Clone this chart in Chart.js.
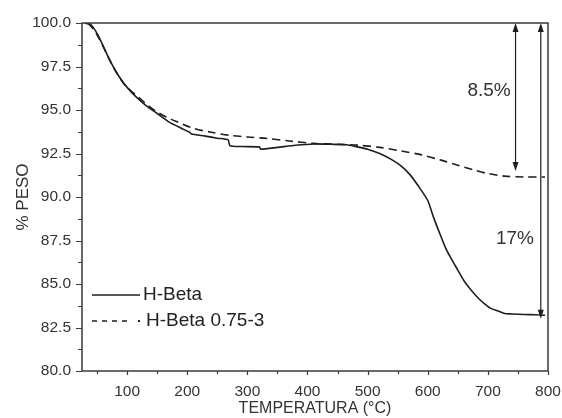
<!DOCTYPE html>
<html>
<head>
<meta charset="utf-8">
<script src="https://cdn.jsdelivr.net/npm/chart.js@4.4.1/dist/chart.umd.min.js"></script>
<style>
html, body { margin: 0; padding: 0; background: #fff; }
#wrap { width: 562px; height: 418px; position: relative; }
</style>
</head>
<body>
<div id="wrap"><canvas id="tga"></canvas></div>
<script>
// H-Beta
var tempBeta = [30, 40, 50, 60, 70, 80, 90, 100, 115, 130, 150, 170, 190, 204, 207, 230, 250, 268, 271, 290, 320, 322, 350, 380, 410, 440, 465, 480, 500, 520, 540, 555, 570, 585, 600, 610, 620, 630, 640, 650, 660, 672, 685, 695, 705, 717, 728, 740, 760, 780, 795];
var pesoBeta = [100.0, 99.9, 99.4, 98.7, 97.95, 97.3, 96.75, 96.3, 95.75, 95.3, 94.8, 94.3, 93.95, 93.72, 93.62, 93.5, 93.38, 93.28, 92.95, 92.9, 92.88, 92.75, 92.85, 92.97, 93.05, 93.03, 93.0, 92.9, 92.75, 92.5, 92.15, 91.8, 91.3, 90.6, 89.8, 88.8, 87.9, 87.05, 86.4, 85.8, 85.2, 84.65, 84.15, 83.85, 83.6, 83.45, 83.3, 83.28, 83.25, 83.23, 83.2];

// H-Beta 0.75-3
var tempBeta075 = [35, 45, 55, 65, 75, 85, 95, 105, 115, 130, 145, 165, 185, 210, 240, 270, 300, 333, 370, 410, 450, 483, 520, 555, 590, 622, 650, 678, 700, 728, 760, 795];
var pesoBeta075 = [100.0, 99.6, 99.0, 98.3, 97.6, 97.0, 96.5, 96.15, 95.85, 95.4, 95.0, 94.6, 94.3, 93.95, 93.72, 93.55, 93.45, 93.36, 93.22, 93.08, 93.03, 92.98, 92.85, 92.65, 92.42, 92.12, 91.82, 91.54, 91.35, 91.2, 91.15, 91.15];

var xTicks = [100, 200, 300, 400, 500, 600, 700, 800];
var yTicks = [80, 82.5, 85, 87.5, 90, 92.5, 95, 97.5, 100];

// weight loss brackets
var lossTemps = [746, 788];
var lossValues = [8.5, 17];
var lossLabels = ['8.5%', '17%'];
var lossLabelTemps = [702, 745];
var lossLabelPesos = [96.1, 87.6];

function toPoints(xs, ys) {
  return xs.map(function (x, i) { return { x: x, y: ys[i] }; });
}

var INK = '#1e1e1e';
var AXIS = '#3a3a3a';
var FONT = '"Liberation Sans", Arial, sans-serif';

var decor = {
  id: 'decor',
  afterDraw: function (chart) {
    var ctx = chart.ctx;
    var a = chart.chartArea;
    var sx = chart.scales.x, sy = chart.scales.y;
    ctx.save();

    // frame
    ctx.strokeStyle = AXIS;
    ctx.lineWidth = 1.5;
    ctx.strokeRect(a.left, a.top, a.right - a.left, a.bottom - a.top);

    // tick marks, pointing outwards
    ctx.lineWidth = 1.2;
    ctx.beginPath();
    xTicks.forEach(function (v) {
      var px = Math.round(sx.getPixelForValue(v)) + 0.5;
      ctx.moveTo(px, a.bottom); ctx.lineTo(px, a.bottom + 4);
      var mx = Math.round(sx.getPixelForValue(v - 50)) + 0.5;
      ctx.moveTo(mx, a.bottom); ctx.lineTo(mx, a.bottom + 3);
    });
    yTicks.forEach(function (v, i) {
      var py = Math.round(sy.getPixelForValue(v)) + 0.5;
      ctx.moveTo(a.left, py); ctx.lineTo(a.left - 6, py);
      if (i < yTicks.length - 1) {
        var my = Math.round(sy.getPixelForValue(v + 1.25)) + 0.5;
        ctx.moveTo(a.left, my); ctx.lineTo(a.left - 4, my);
      }
    });
    ctx.stroke();

    // double arrows for the losses
    ctx.strokeStyle = INK;
    ctx.fillStyle = INK;
    ctx.lineWidth = 1.2;
    lossTemps.forEach(function (t, i) {
      var x = sx.getPixelForValue(t);
      var y0 = sy.getPixelForValue(100);
      var y1 = sy.getPixelForValue(100 - lossValues[i]);
      ctx.beginPath();
      ctx.moveTo(x, y0 + 4); ctx.lineTo(x, y1 - 4);
      ctx.stroke();
      ctx.beginPath();
      ctx.moveTo(x, y0); ctx.lineTo(x - 3, y0 + 9); ctx.lineTo(x + 3, y0 + 9); ctx.closePath();
      ctx.moveTo(x, y1); ctx.lineTo(x - 3, y1 - 9); ctx.lineTo(x + 3, y1 - 9); ctx.closePath();
      ctx.fill();
    });

    ctx.font = '19px ' + FONT;
    ctx.fillStyle = '#333';
    ctx.textAlign = 'center';
    ctx.textBaseline = 'middle';
    lossLabels.forEach(function (txt, i) {
      ctx.fillText(txt, sx.getPixelForValue(lossLabelTemps[i]), sy.getPixelForValue(lossLabelPesos[i]));
    });

    // legend
    var ds = chart.data.datasets;
    ctx.strokeStyle = INK;
    ctx.lineWidth = 1.6;
    ctx.beginPath();
    ctx.moveTo(92, 295); ctx.lineTo(140, 295);
    ctx.stroke();
    ctx.setLineDash([5, 5]);
    ctx.beginPath();
    ctx.moveTo(92, 321); ctx.lineTo(130, 321);
    ctx.stroke();
    ctx.setLineDash([]);
    ctx.fillStyle = INK;
    ctx.fillRect(138, 320, 2, 2);
    ctx.font = '19px ' + FONT;
    ctx.fillStyle = '#222';
    ctx.textAlign = 'left';
    ctx.fillText(ds[0].label, 143, 295);
    ctx.fillText(ds[1].label, 146, 321);

    ctx.restore();
  }
};

new Chart(document.getElementById('tga'), {
  type: 'line',
  data: {
    datasets: [
      {
        label: 'H-Beta',
        data: toPoints(tempBeta, pesoBeta),
        borderColor: INK,
        borderWidth: 1.6,
        pointRadius: 0,
        tension: 0.2,
        fill: false
      },
      {
        label: 'H-Beta 0.75-3',
        data: toPoints(tempBeta075, pesoBeta075),
        borderColor: INK,
        borderWidth: 1.6,
        borderDash: [8, 5],
        pointRadius: 0,
        tension: 0.3,
        fill: false
      }
    ]
  },
  options: {
    responsive: true,
    maintainAspectRatio: false,
    animation: false,
    layout: { padding: { top: 23, right: 14, left: 0, bottom: 0 } },
    plugins: { legend: { display: false }, tooltip: { enabled: false } },
    scales: {
      x: {
        type: 'linear',
        min: 25,
        max: 800,
        afterBuildTicks: function (s) { s.ticks = xTicks.map(function (v) { return { value: v }; }); },
        afterFit: function (s) { s.height = 47; s.paddingLeft = 0; s.paddingRight = 0; },
        grid: { display: false, drawTicks: false },
        border: { display: false },
        ticks: {
          autoSkip: false, maxRotation: 0, padding: 11,
          color: '#333',
          font: { family: FONT, size: 15.5 }
        },
        title: {
          display: true, text: 'TEMPERATURA (°C)', color: '#333',
          padding: { top: 0, bottom: 0 },
          font: { family: FONT, size: 16 }
        }
      },
      y: {
        min: 80,
        max: 100,
        afterBuildTicks: function (s) { s.ticks = yTicks.map(function (v) { return { value: v }; }); },
        afterFit: function (s) { s.width = 82; s.paddingTop = 0; s.paddingBottom = 0; },
        grid: { display: false, drawTicks: false },
        border: { display: false },
        ticks: {
          padding: 11, color: '#333',
          callback: function (v) { return Number(v).toFixed(1); },
          font: { family: FONT, size: 15.5 }
        },
        title: {
          display: true, text: '% PESO', color: '#333',
          padding: { top: 13, bottom: 0 },
          font: { family: FONT, size: 17 }
        }
      }
    }
  },
  plugins: [decor]
});
</script>
</body>
</html>
